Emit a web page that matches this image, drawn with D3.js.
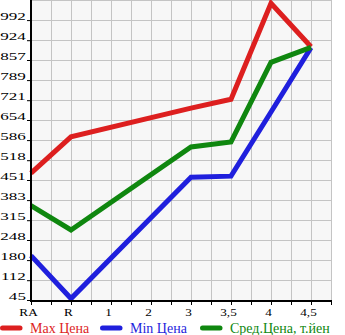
<!DOCTYPE html>
<html>
<head>
<meta charset="utf-8">
<script src="https://cdn.jsdelivr.net/npm/d3@7"></script>
<style>
  body { margin: 0; background: #fff; }
  svg { display: block; }
  text { font-family: "Liberation Serif", "Times New Roman", serif; }
</style>
</head>
<body>
<div id="chart"></div>
<script>
const width = 345;
const height = 335;

// categories along the bottom
const categories = ["RA", "R", "1", "2", "3", "3,5", "4", "4,5"];

// prices, thousand yen (null = no data for that year)
const maxPrice = [474, 597, null, null, 694, 724, 1049, 902];
const minPrice = [195, 50, null, null, 460, 464, 681, 899];
const avgPrice = [364, 282, null, null, 563, 580, 849, 900];

const yTicks = [45, 112, 180, 248, 315, 383, 451, 518, 586, 654, 721, 789, 857, 924, 992];
const yTickLabels = ["45", "112", "180", "248", "315", "383", "451", "518", "586", "654", "721", "789", "857", "924", "992"];

const seriesNames = ["Max Цена", "Min Цена", "Сред.Цена, т.йен"];
const seriesColors = ["#dd1f1f", "#1f1fdd", "#0f870f"];

const plotLeft = 31, plotRight = 331, plotTop = 0, plotBottom = 300;

const svg = d3.select("#chart")
  .append("svg")
  .attr("width", width)
  .attr("height", height);

const xScale = d3.scalePoint()
  .domain(categories)
  .range([plotLeft, plotRight - 20]);

const yScale = d3.scaleLinear()
  .domain([45, 1060])
  .range([plotBottom, plotTop]);

const step = xScale.step();

/* plot background */
svg.append("rect")
  .attr("x", plotLeft)
  .attr("y", plotTop)
  .attr("width", plotRight - plotLeft)
  .attr("height", plotBottom - plotTop)
  .style("fill", "#f7f7f7");

/* grid: vertical lines at every category and half step */
const vLines = [];
categories.forEach(c => {
  vLines.push(xScale(c));
  vLines.push(xScale(c) + step / 2);
});

svg.append("g")
  .selectAll("line")
  .data(vLines)
  .enter()
  .append("line")
  .attr("x1", d => d + 0.5)
  .attr("x2", d => d + 0.5)
  .attr("y1", plotTop)
  .attr("y2", plotBottom)
  .style("stroke", "#c4c4c4")
  .style("stroke-width", 1);

const hStep = (yScale(yTicks[0]) - yScale(yTicks[1]));
const hLines = yTicks.map(d => yScale(d)).concat([yScale(yTicks[yTicks.length - 1]) - hStep]);

svg.append("g")
  .selectAll("line")
  .data(hLines)
  .enter()
  .append("line")
  .attr("x1", plotLeft)
  .attr("x2", plotRight + 1)
  .attr("y1", d => Math.round(d) + 0.5)
  .attr("y2", d => Math.round(d) + 0.5)
  .style("stroke", "#c4c4c4")
  .style("stroke-width", 1);

/* lines */
const line = d3.line()
  .x(d => xScale(d.cat))
  .y(d => yScale(d.v));

[maxPrice, minPrice, avgPrice].forEach((vals, i) => {
  const pts = categories
    .map((c, j) => ({ cat: c, v: vals[j] }))
    .filter(d => d.v !== null);
  svg.append("path")
    .datum(pts)
    .attr("d", line)
    .style("fill", "none")
    .style("stroke", seriesColors[i])
    .style("stroke-width", 5);
});

/* axes */
const yAxis = d3.axisLeft(yScale)
  .tickValues(yTicks)
  .tickFormat((d, i) => yTickLabels[i])
  .tickSize(4)
  .tickSizeOuter(0);

const gy = svg.append("g")
  .attr("transform", "translate(" + plotLeft + ",0)")
  .call(yAxis);

gy.select(".domain").remove();
gy.selectAll(".tick line").style("stroke", "#000");
gy.selectAll(".tick text")
  .attr("x", -3.3)
  .attr("dy", "-0.5")
  .attr("transform", "scale(1.55,1)")
  .style("font-size", "11px")
  .style("fill", "#000");

svg.append("line")
  .attr("x1", plotLeft)
  .attr("x2", plotLeft)
  .attr("y1", plotTop)
  .attr("y2", plotBottom + 2)
  .style("stroke", "#000")
  .style("stroke-width", 2);

const xAxis = d3.axisBottom(xScale)
  .tickSize(4)
  .tickSizeOuter(0);

const gx = svg.append("g")
  .attr("transform", "translate(0," + (plotBottom + 1) + ")")
  .call(xAxis);

gx.select(".domain").remove();
gx.selectAll(".tick line").style("stroke", "#000");
gx.selectAll(".tick text")
  .attr("y", 15)
  .attr("dy", 0)
  .attr("transform", "translate(-3,0) scale(1.2,1)")
  .style("font-size", "11px")
  .style("fill", "#000");

// half-step ticks
gx.selectAll(".minor")
  .data(categories)
  .enter()
  .append("line")
  .attr("x1", d => xScale(d) + step / 2 + 0.5)
  .attr("x2", d => xScale(d) + step / 2 + 0.5)
  .attr("y1", 0)
  .attr("y2", 4)
  .style("stroke", "#000");

svg.append("line")
  .attr("x1", plotLeft)
  .attr("x2", plotRight + 1)
  .attr("y1", plotBottom + 1)
  .attr("y2", plotBottom + 1)
  .style("stroke", "#000")
  .style("stroke-width", 2);

/* legend */
const legend = svg.append("g")
  .attr("transform", "translate(0,328)");

const items = legend.selectAll("g")
  .data(seriesNames)
  .enter()
  .append("g")
  .attr("transform", (d, i) => "translate(" + (i * 100) + ",0)");

items.append("line")
  .attr("x1", 2.5)
  .attr("x2", 20)
  .attr("y1", 0)
  .attr("y2", 0)
  .style("stroke", (d, i) => seriesColors[i])
  .style("stroke-width", 5)
  .style("stroke-linecap", "round");

items.append("text")
  .attr("x", 30)
  .attr("y", 5)
  .text(d => d)
  .style("font-size", "14px")
  .style("fill", (d, i) => seriesColors[i]);
</script>
</body>
</html>
